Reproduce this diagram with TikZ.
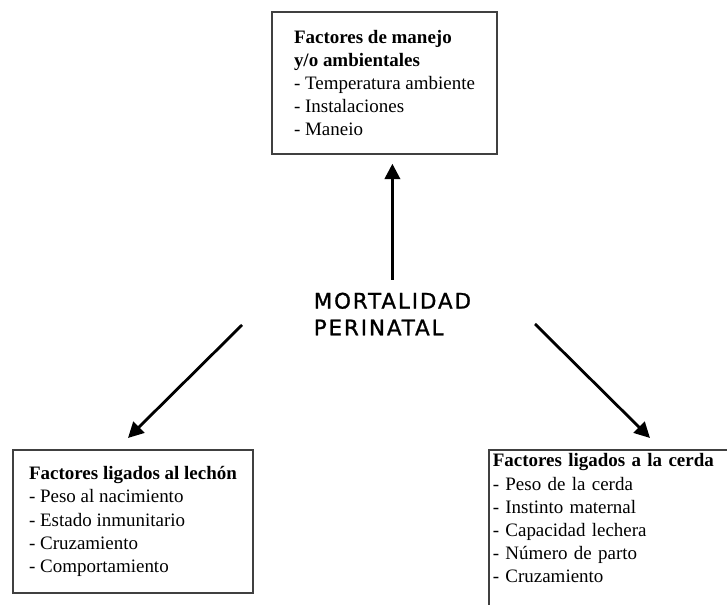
\documentclass[tikz,border=0pt]{standalone}
\usepackage{fontspec}
\setmainfont{Liberation Serif}
\newfontfamily\mortfont[LetterSpace=9,FakeBold=1.2]{DejaVu Sans}
\usetikzlibrary{arrows.meta}
\usetikzlibrary{positioning}

\tikzset{
  factbox/.style={draw=black!75, line width=1.1pt, rectangle, align=left,
    font=\fontsize{13.5}{16.5}\selectfont},
  arr/.style={line width=2pt, -{Triangle[length=11pt,width=11pt]}}
}

\begin{document}
\begin{tikzpicture}
            \path[use as bounding box, clip] (0,0) rectangle (18.175,15.125);
            % Centre label
            \node[align=left, font=\mortfont\fontsize{15.2}{19}\selectfont] (mort) at (9.81,7.275) {MORTALIDAD\\PERINATAL};
            % Factor boxes
            \node[factbox, minimum width=5.625cm, minimum height=3.55cm] (manejo) at (9.6125,13.05) {\textbf{Factores de manejo}\\\textbf{y/o ambientales}\\- Temperatura ambiente\\- Instalaciones\\- Maneio};
            \node[factbox, minimum width=6cm, minimum height=3.575cm] (lechon) at (3.325,2.0875) {\textbf{Factores ligados al lechón}\\- Peso al nacimiento\\- Estado inmunitario\\- Cruzamiento\\- Comportamiento};
            \node[factbox, anchor=north west, inner sep=0.1cm, text width=6.5cm] (cerda) at (12.2,3.9) {\textbf{Factores ligados a la cerda}\\- Peso de la cerda\\- Instinto maternal\\- Capacidad lechera\\- Número de parto\\- Cruzamiento\rule[-1cm]{0pt}{1cm}};
            % Arrow ends
            \coordinate (lfrom) at (6.05,7.0);
            \coordinate (lto) at (3.2,4.175);
            \coordinate (rfrom) at (13.375,7.025);
            \coordinate (rto) at (16.25,4.175);
            % Arrows
            \draw[arr, shorten <=0.2cm, shorten >=0.225cm] (mort.north) -- (mort.north |- manejo.south);
            \draw[arr] (lfrom) -- (lto);
            \draw[arr] (rfrom) -- (rto);
        \end{tikzpicture}
\end{document}
